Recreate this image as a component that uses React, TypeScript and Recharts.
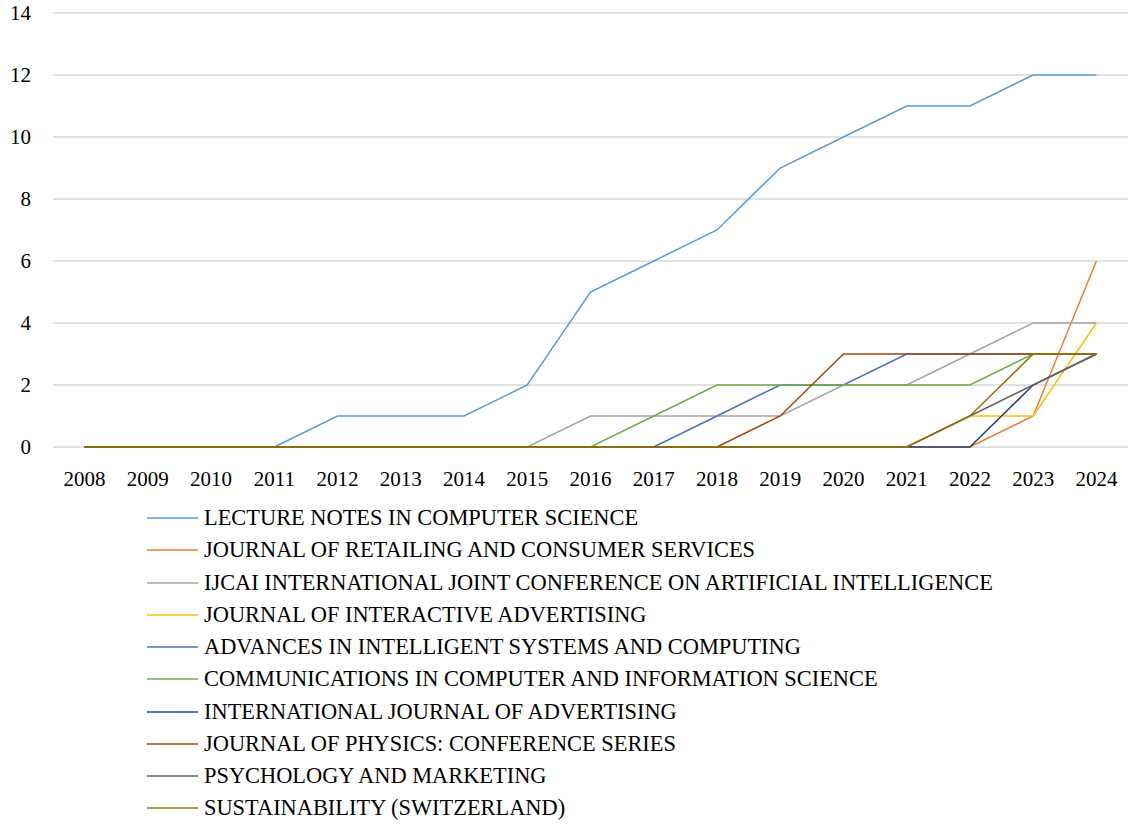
import { LineChart, Line, XAxis, YAxis, CartesianGrid, Legend } from "recharts";

const years = [
  "2008", "2009", "2010", "2011", "2012", "2013", "2014", "2015", "2016",
  "2017", "2018", "2019", "2020", "2021", "2022", "2023", "2024",
];

const lncs = [0, 0, 0, 0, 1, 1, 1, 2, 5, 6, 7, 9, 10, 11, 11, 12, 12];
const retailing = [0, 0, 0, 0, 0, 0, 0, 0, 0, 0, 0, 0, 0, 0, 0, 1, 6];
const ijcai = [0, 0, 0, 0, 0, 0, 0, 0, 1, 1, 1, 1, 2, 2, 3, 4, 4];
const interactive = [0, 0, 0, 0, 0, 0, 0, 0, 0, 0, 0, 0, 0, 0, 1, 1, 4];
const advances = [0, 0, 0, 0, 0, 0, 0, 0, 0, 0, 1, 2, 2, 3, 3, 3, 3];
const communications = [0, 0, 0, 0, 0, 0, 0, 0, 0, 1, 2, 2, 2, 2, 2, 3, 3];
const intAdvertising = [0, 0, 0, 0, 0, 0, 0, 0, 0, 0, 0, 0, 0, 0, 0, 2, 3];
const physics = [0, 0, 0, 0, 0, 0, 0, 0, 0, 0, 0, 1, 3, 3, 3, 3, 3];
const psychology = [0, 0, 0, 0, 0, 0, 0, 0, 0, 0, 0, 0, 0, 0, 1, 2, 3];
const sustainability = [0, 0, 0, 0, 0, 0, 0, 0, 0, 0, 0, 0, 0, 0, 1, 3, 3];

const yTicks = [0, 2, 4, 6, 8, 10, 12, 14];

const SERIES = [
  { key: "lncs", name: "LECTURE NOTES IN COMPUTER SCIENCE", values: lncs, color: "#5B9BD5" },
  { key: "retailing", name: "JOURNAL OF RETAILING AND CONSUMER SERVICES", values: retailing, color: "#ED7D31" },
  { key: "ijcai", name: "IJCAI INTERNATIONAL JOINT CONFERENCE ON ARTIFICIAL INTELLIGENCE", values: ijcai, color: "#A5A5A5" },
  { key: "interactive", name: "JOURNAL OF INTERACTIVE ADVERTISING", values: interactive, color: "#FFC000" },
  { key: "advances", name: "ADVANCES IN INTELLIGENT SYSTEMS AND COMPUTING", values: advances, color: "#4472C4" },
  { key: "communications", name: "COMMUNICATIONS IN COMPUTER AND INFORMATION SCIENCE", values: communications, color: "#70AD47" },
  { key: "intAdvertising", name: "INTERNATIONAL JOURNAL OF ADVERTISING", values: intAdvertising, color: "#264478" },
  { key: "physics", name: "JOURNAL OF PHYSICS: CONFERENCE SERIES", values: physics, color: "#9E480E" },
  { key: "psychology", name: "PSYCHOLOGY AND MARKETING", values: psychology, color: "#636363" },
  { key: "sustainability", name: "SUSTAINABILITY (SWITZERLAND)", values: sustainability, color: "#997300" },
];

const data = years.map((year, i) => {
  const row: Record<string, string | number> = { year };
  for (const s of SERIES) row[s.key] = s.values[i];
  return row;
});

const FONT = "'Liberation Serif', 'DejaVu Serif', serif";

function VerticalLegend() {
  return (
    <div style={{ paddingLeft: 147, paddingTop: 6, fontFamily: FONT }}>
      {SERIES.map((s) => (
        <div
          key={s.key}
          style={{ height: 32.25, display: "flex", alignItems: "center", color: "#000", fontSize: 22.4 }}
        >
          <svg width={51} height={4} style={{ marginRight: 6 }}>
            <line x1={0} y1={2} x2={51} y2={2} stroke={s.color} strokeWidth={1.5} />
          </svg>
          <span>{s.name}</span>
        </div>
      ))}
    </div>
  );
}

export default function App() {
  return (
    <div style={{ position: "absolute", left: 0, top: 0, background: "#fff" }}>
      <LineChart
        width={1128}
        height={826}
        data={data}
        margin={{ top: 13, right: 0, left: 0, bottom: 0 }}
      >
        <CartesianGrid vertical={false} stroke="#d9d9d9" strokeWidth={1.5} />
        <XAxis
          dataKey="year"
          axisLine={false}
          tickLine={false}
          tickSize={0}
          tickMargin={24}
          height={49}
          interval={0}
          padding={{ left: 31.6, right: 31.6 }}
          tick={{ fill: "#000", fontSize: 21, fontFamily: FONT }}
        />
        <YAxis
          domain={[0, 14]}
          ticks={yTicks}
          axisLine={false}
          tickLine={false}
          tickSize={0}
          tickMargin={22}
          width={53}
          tick={{ fill: "#000", fontSize: 21, fontFamily: FONT }}
        />
        <Legend
          verticalAlign="bottom"
          align="left"
          height={330}
          wrapperStyle={{ left: 0, width: 1128 }}
          content={() => <VerticalLegend />}
        />
        {SERIES.map((s) => (
          <Line
            key={s.key}
            type="linear"
            dataKey={s.key}
            name={s.name}
            stroke={s.color}
            strokeWidth={1.5}
            dot={false}
            isAnimationActive={false}
          />
        ))}
      </LineChart>
    </div>
  );
}
